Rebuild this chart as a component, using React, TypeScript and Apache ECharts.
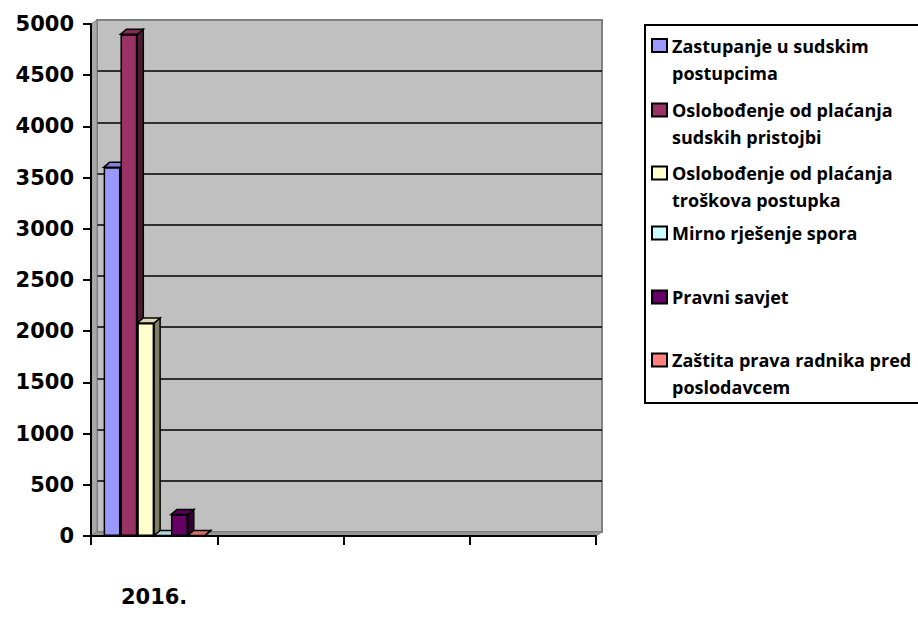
import React, { useEffect, useRef } from "react";
import * as echarts from "echarts";

const categories = ["2016.", "", "", ""];
const seriesNames = [
  "Zastupanje u sudskim postupcima",
  "Oslobođenje od plaćanja sudskih pristojbi",
  "Oslobođenje od plaćanja troškova postupka",
  "Mirno rješenje spora",
  "Pravni savjet",
  "Zaštita prava radnika pred poslodavcem",
];
const legendLines: Record<string, string> = {
  "Zastupanje u sudskim postupcima": "Zastupanje u sudskim\npostupcima",
  "Oslobođenje od plaćanja sudskih pristojbi": "Oslobođenje od plaćanja\nsudskih pristojbi",
  "Oslobođenje od plaćanja troškova postupka": "Oslobođenje od plaćanja\ntroškova postupka",
  "Mirno rješenje spora": "Mirno rješenje spora",
  "Pravni savjet": "Pravni savjet",
  "Zaštita prava radnika pred poslodavcem": "Zaštita prava radnika pred\nposlodavcem",
};
const zastupanje = [3600, null, null, null];
const sudskePristojbe = [4900, null, null, null];
const troskoviPostupka = [2080, null, null, null];
const mirnoRjesenje = [5, null, null, null];
const pravniSavjet = [210, null, null, null];
const zastitaRadnika = [5, null, null, null];
const yMin = 0;
const yMax = 5000;
const yStep = 500;

const seriesValues = [zastupanje, sudskePristojbe, troskoviPostupka, mirnoRjesenje, pravniSavjet, zastitaRadnika];
const colors = ["#9999FF", "#993366", "#FFFFCC", "#CCFFFF", "#660066", "#FF8080"];

function shade(hex: string, f: number) {
  const n = parseInt(hex.slice(1), 16);
  const r = Math.round(((n >> 16) & 255) * f);
  const g = Math.round(((n >> 8) & 255) * f);
  const b = Math.round((n & 255) * f);
  return `rgb(${r},${g},${b})`;
}

// layout constants
const G = { left: 91, top: 24, right: 322, bottom: 92 };
const DX = 6;
const DY = -4;
const BAR_DX = 6;
const BAR_DY = -5;
const W = 918;
const H = 628;

export default function App() {
  const ref = useRef<HTMLDivElement>(null);
  useEffect(() => {
    if (!ref.current) return;
    const chart = echarts.init(ref.current, undefined, { renderer: "svg" });
    const n = seriesNames.length;
    const barSeries: any[] = seriesNames.map((name, i) => ({
      name,
      type: "bar",
      xAxisIndex: 0,
      yAxisIndex: 0,
      data: seriesValues[i],
      barGap: "0%",
      barCategoryGap: "20%",
      z: 4,
      itemStyle: { color: colors[i], borderColor: "#000", borderWidth: 1.5 },
    }));
    const capSeries: any[] = seriesNames.map((name, i) => ({
      name,
      type: "custom",
      xAxisIndex: 0,
      yAxisIndex: 0,
      z: 3,
      itemStyle: { color: colors[i] },
      data: seriesValues[i]
        .map((v, ci) => (v == null ? null : [ci, v]))
        .filter((d) => d != null),
      renderItem: (params: any, api: any) => {
        const cat = api.value(0);
        const val = api.value(1);
        const base = api.coord([cat, 0]);
        const top = api.coord([cat, val]);
        const band = api.size([1, 0])[0];
        const bw = (band * 0.8) / n;
        const x0 = base[0] - band * 0.4 + i * bw;
        const x1 = x0 + bw;
        const ty = top[1];
        const by = base[1];
        return {
          type: "group",
          children: [
            {
              type: "polygon",
              shape: {
                points: [
                  [x1, ty],
                  [x1 + BAR_DX, ty + BAR_DY],
                  [x1 + BAR_DX, by + BAR_DY],
                  [x1, by],
                ],
              },
              style: { fill: shade(colors[i], 0.5), stroke: "#000", lineWidth: 1.5 },
            },
            {
              type: "polygon",
              shape: {
                points: [
                  [x0, ty],
                  [x0 + BAR_DX, ty + BAR_DY],
                  [x1 + BAR_DX, ty + BAR_DY],
                  [x1, ty],
                ],
              },
              style: { fill: shade(colors[i], 0.85), stroke: "#000", lineWidth: 1.5 },
            },
          ],
        };
      },
    }));

    const iconCenters = [45.5, 110, 173, 233, 297, 360];
    const legends = seriesNames.map((name, i) => {
      const twoLine = legendLines[name].includes("\n");
      return {
        show: true,
        data: [{ name, icon: "rect" }],
        orient: "vertical",
        left: 651,
        top: iconCenters[i] - (twoLine ? 40.5 : 13.5),
        padding: 0,
        itemWidth: 15,
        itemHeight: 13,
        selectedMode: false,
        formatter: (nm: string) => (legendLines[nm].includes("\n") ? "\n" + legendLines[nm] : legendLines[nm]),
        itemStyle: { borderColor: "#000", borderWidth: 2 },
        textStyle: {
          fontFamily: "Open Sans",
          fontWeight: "bold",
          fontSize: 18,
          lineHeight: 27,
          color: "#000",
        },
      };
    });

    const gl = G.left;
    const gr = W - G.right;
    const gt = G.top;
    const gb = H - G.bottom;

    const splitColors: string[] = [];
    for (let v = yMin; v <= yMax; v += yStep) {
      splitColors.push(v === yMin || v === yMax ? "#808080" : "#000");
    }

    chart.setOption({
      animation: false,
      backgroundColor: "#fff",
      grid: [
        { left: G.left, top: G.top, right: G.right, bottom: G.bottom, containLabel: false },
        {
          left: G.left + DX,
          top: G.top + DY,
          right: G.right - DX,
          bottom: G.bottom - DY,
          show: true,
          backgroundColor: "#c0c0c0",
          borderColor: "#808080",
          borderWidth: 2,
          z: 0,
        },
      ],
      xAxis: [
        {
          type: "category",
          gridIndex: 0,
          data: categories,
          boundaryGap: true,
          axisLine: { show: true, lineStyle: { color: "#000", width: 2 } },
          axisTick: { show: true, length: 9, interval: 0, lineStyle: { color: "#000", width: 2 } },
          axisLabel: {
            interval: 0,
            margin: 50,
            color: "#000",
            fontFamily: "DejaVu Sans",
            fontWeight: "bold",
            fontSize: 21,
          },
          splitLine: { show: false },
          z: 5,
        },
        { type: "value", gridIndex: 1, show: false },
      ],
      yAxis: [
        {
          type: "value",
          gridIndex: 0,
          min: yMin,
          max: yMax,
          interval: yStep,
          axisLine: { show: true, lineStyle: { color: "#000", width: 2 } },
          axisTick: { show: true, length: 8, lineStyle: { color: "#000", width: 2 } },
          axisLabel: {
            margin: 17,
            color: "#000",
            fontFamily: "DejaVu Sans",
            fontWeight: "bold",
            fontSize: 21,
            formatter: (v: number) => String(v),
          },
          splitLine: { show: false },
          z: 5,
        },
        {
          type: "value",
          gridIndex: 1,
          min: yMin,
          max: yMax,
          interval: yStep,
          axisLine: { show: false },
          axisTick: { show: false },
          axisLabel: { show: false },
          splitLine: { show: true, lineStyle: { color: splitColors, width: 1.5 } },
        },
      ],
      legend: legends,
      graphic: [
        {
          type: "polygon",
          z: 1,
          silent: true,
          shape: { points: [[gl, gt], [gl + DX, gt + DY], [gl + DX, gb + DY], [gl, gb]] },
          style: { fill: "#a8a8a8", stroke: "#808080", lineWidth: 1 },
        },
        {
          type: "polygon",
          z: 1,
          silent: true,
          shape: { points: [[gl, gb], [gl + DX, gb + DY], [gr + DX, gb + DY], [gr, gb]] },
          style: { fill: "#999999", stroke: "#808080", lineWidth: 1 },
        },
        {
          type: "rect",
          z: 0,
          silent: true,
          shape: { x: 645, y: 25, width: 300, height: 378 },
          style: { fill: "#fff", stroke: "#000", lineWidth: 2 },
        },
      ],
      series: [...capSeries, ...barSeries],
    });
    return () => chart.dispose();
  }, []);
  return <div ref={ref} style={{ position: "fixed", left: 0, top: 0, width: W, height: H }} />;
}
